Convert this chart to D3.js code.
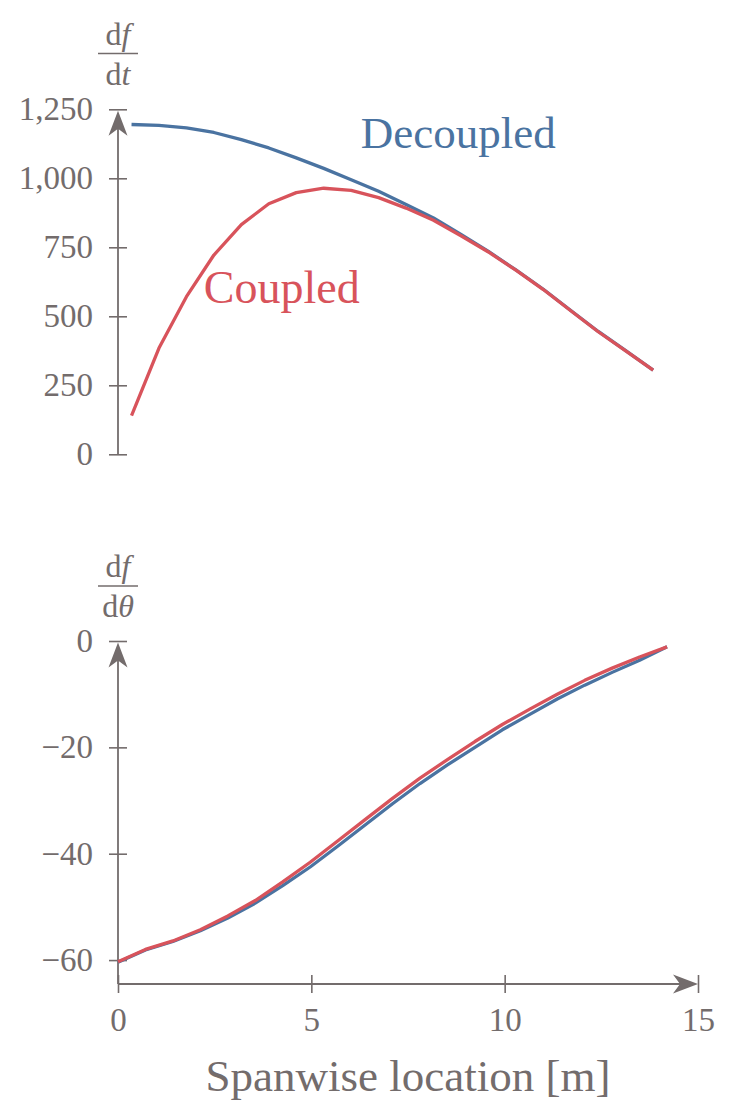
<!DOCTYPE html>
<html>
<head>
<meta charset="utf-8">
<script src="https://cdn.jsdelivr.net/npm/d3@7"></script>
<style>
  html, body { margin: 0; padding: 0; background: #fff; }
  svg { display: block; }
  text { font-family: "Liberation Serif", "DejaVu Serif", serif; fill: #736c6c; }
  .tick line { stroke: #736c6c; stroke-width: 1.6; }
  .tick text { font-size: 33px; }
</style>
</head>
<body>
<div id="chart"></div>
<script>
const WIDTH = 731, HEIGHT = 1115;
const GREY = "#736c6c", BLUE = "#4a73a1", RED = "#d8535b";

// top panel: df/dt at element centres
const rateX = [0.35, 1.06, 1.77, 2.48, 3.19, 3.90, 4.61, 5.32, 6.03, 6.74,
               7.45, 8.16, 8.87, 9.58, 10.29, 11.00, 11.71, 12.42, 13.13, 13.84];
const rateDecoupled = [1195, 1192, 1183, 1166, 1140, 1110, 1074, 1036, 995, 953,
                       905, 856, 797, 735, 668, 598, 521, 445, 376, 305];
const rateCoupled = [140, 385, 571, 722, 832, 908, 948, 964, 956, 930,
                     892, 848, 792, 733, 667, 597, 520, 444, 375, 305];

// bottom panel: df/dtheta at nodes
const twistX = [0, 0.71, 1.42, 2.13, 2.84, 3.55, 4.26, 4.97, 5.68, 6.39,
                7.10, 7.81, 8.52, 9.23, 9.94, 10.65, 11.36, 12.07, 12.78, 13.49, 14.20];
const twistDecoupled = [-60.4, -58.1, -56.5, -54.5, -52.1, -49.3, -46.0, -42.5, -38.6, -34.6,
                        -30.6, -26.8, -23.3, -20.0, -16.7, -13.8, -10.9, -8.3, -5.9, -3.6, -1.1];
const twistCoupled = [-60.3, -58.0, -56.4, -54.3, -51.7, -48.8, -45.3, -41.6, -37.6, -33.6,
                      -29.6, -25.8, -22.3, -18.9, -15.7, -12.8, -10.0, -7.4, -5.1, -3.0, -1.1];

const xTicks = [0, 5, 10, 15];
const rateTicks = [0, 250, 500, 750, 1000, 1250];
const twistTicks = [-60, -40, -20, 0];

const svg = d3.select("#chart").append("svg")
  .attr("width", WIDTH).attr("height", HEIGHT);

const x = d3.scaleLinear().domain([0, 15]).range([118, 698]);
const yRate = d3.scaleLinear().domain([0, 1250]).range([454.3, 109.3]);
const yTwist = d3.scaleLinear().domain([-64.5, 0]).range([984, 641]);

// stealth-like arrow head, tip at origin pointing right
const ARROW = "M0,0 L-25,-9.5 L-18,0 L-25,9.5 Z";

function arrow(px, py, angle) {
  svg.append("path").attr("d", ARROW).attr("fill", GREY)
    .attr("transform", `translate(${px},${py}) rotate(${angle})`);
}

function yAxis(scale, ticks, fmt, bottomVal) {
  const g = svg.append("g").attr("transform", `translate(${x(0) + 9},0)`)
    .call(d3.axisLeft(scale).tickValues(ticks).tickFormat(fmt)
      .tickSize(18).tickPadding(16));
  g.select(".domain").remove();
  g.selectAll(".tick text").attr("fill", GREY);
  const top = scale(ticks[ticks.length - 1]);
  svg.append("line")
    .attr("x1", x(0)).attr("x2", x(0))
    .attr("y1", scale(bottomVal)).attr("y2", top + 12)
    .attr("stroke", GREY).attr("stroke-width", 1.8);
  arrow(x(0), top + 1.5, -90);
}

function fracLabel(cx, lineY, denom) {
  svg.append("line")
    .attr("x1", cx - 20).attr("x2", cx + 20)
    .attr("y1", lineY).attr("y2", lineY)
    .attr("stroke", GREY).attr("stroke-width", 1.6);
  const num = svg.append("text").attr("x", cx).attr("y", lineY - 9)
    .attr("text-anchor", "middle").style("font-size", "32px");
  num.append("tspan").text("d");
  num.append("tspan").style("font-style", "italic").text("f");
  const den = svg.append("text").attr("x", cx).attr("y", lineY + 31)
    .attr("text-anchor", "middle").style("font-size", "32px");
  den.append("tspan").text("d");
  den.append("tspan").style("font-style", "italic").text(denom);
}

function curve(xs, ys, yScale, color) {
  const line = d3.line().x(d => x(d[0])).y(d => yScale(d[1]));
  svg.append("path")
    .datum(d3.zip(xs, ys))
    .attr("d", line)
    .attr("fill", "none")
    .attr("stroke", color)
    .attr("stroke-width", 3.3)
    .attr("stroke-linejoin", "round");
}

// ---- top panel
yAxis(yRate, rateTicks, d3.format(","), 0);
fracLabel(x(0), 53.5, "t");
curve(rateX, rateDecoupled, yRate, BLUE);
curve(rateX, rateCoupled, yRate, RED);

svg.append("text").attr("x", x(6.28)).attr("y", yRate(1111))
  .style("font-size", "45px").style("fill", BLUE).text("Decoupled");
svg.append("text").attr("x", x(2.22)).attr("y", yRate(548))
  .style("font-size", "46px").style("fill", RED).text("Coupled");

// ---- bottom panel
yAxis(yTwist, twistTicks, d3.format(""), -64.5);
fracLabel(x(0), 586, "θ");

const gx = svg.append("g").attr("transform", `translate(0,${yTwist(-64.5) - 9})`)
  .call(d3.axisBottom(x).tickValues(xTicks).tickSize(18).tickPadding(15));
gx.select(".domain").remove();
gx.selectAll(".tick text").attr("fill", GREY);
svg.append("line")
  .attr("x1", x(0)).attr("x2", x(15) - 12)
  .attr("y1", yTwist(-64.5)).attr("y2", yTwist(-64.5))
  .attr("stroke", GREY).attr("stroke-width", 1.8);
arrow(x(15), yTwist(-64.5), 0);

curve(twistX, twistDecoupled, yTwist, BLUE);
curve(twistX, twistCoupled, yTwist, RED);

svg.append("text").attr("x", (x(0) + x(15)) / 2).attr("y", 1091)
  .attr("text-anchor", "middle").style("font-size", "45px")
  .text("Spanwise location [m]");
</script>
</body>
</html>
